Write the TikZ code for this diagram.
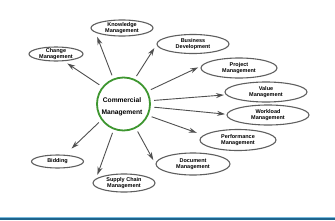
\documentclass[tikz,border=0pt]{standalone}
\usepackage{fontspec}
\setmainfont{Liberation Sans}
\usetikzlibrary{arrows.meta,shapes.geometric}
\definecolor{cmgreen}{RGB}{62,150,48}
\definecolor{cmgray}{RGB}{80,80,80}
\definecolor{cmring}{RGB}{95,95,95}
\definecolor{cmbar}{RGB}{30,100,140}
\definecolor{cmbarlt}{RGB}{120,185,220}

\begin{document}
\begin{tikzpicture}[x=1pt, y=-1pt,
    flow/.style={-{Stealth[length=8pt,width=5pt]}, line width=0.9pt, draw=cmgray, shorten <=3.5pt},
    bubble/.style 2 args={ellipse, draw=cmring, line width=1.1pt, minimum width=#1pt, minimum height=#2pt, inner sep=0pt},
    tag/.style={font=\fontsize{5.5}{6}\selectfont\bfseries, align=center, inner sep=0pt}
  ]
  \useasboundingbox (0,0) rectangle (335,220);

  % centre ring
  \node[circle, draw=cmgreen, line width=1.8pt, minimum size=53pt, inner sep=0pt] (cm) at (123.5,104) {};
  \node[font=\fontsize{6.7}{12.5}\selectfont\bfseries, align=center, inner sep=0pt] (cm-t) at (122,107) {Commercial\\Management};

  % bubbles
  \node[bubble={54}{14}] (chg) at (56,54) {};
  \node[tag] (chg-t) at (chg) {Change\\Management};
  \node[bubble={62}{16}] (know) at (122,28) {};
  \node[tag] (know-t) at (know) {Knowledge\\Management};
  \node[bubble={72}{19}] (biz) at (193,44) {};
  \node[tag] (biz-t) at (biz) {Business\\Development};
  \node[bubble={76}{20}] (proj) at (239,68) {};
  \node[tag] (proj-t) at (proj) {Project\\Management};
  \node[bubble={82}{20}] (val) at (266,92) {};
  \node[tag] (val-t) at (val) {Value\\Management};
  \node[bubble={82}{20}] (work) at (268,115) {};
  \node[tag] (work-t) at (work) {Workload\\Management};
  \node[bubble={76}{21}] (perf) at (238,140) {};
  \node[tag] (perf-t) at (perf) {Performance\\Management};
  \node[bubble={74}{22}] (doc) at (193,164) {};
  \node[tag] (doc-t) at (doc) {Document\\Management};
  \node[bubble={62}{18}] (supp) at (124,183) {};
  \node[tag] (supp-t) at (supp) {Supply Chain\\Management};
  \node[bubble={52}{13}] (bid) at (57.5,161.5) {};
  \node[tag] (bid-t) at (bid) {Bidding};

  % spokes
  \foreach \a/\n/\b/\g in {141/chg/318/4, 112/know/190/4.5, 66/biz/181/4, 28/proj/177/3.3,
      7/val/184/2, 354/work/179/1.5, 335/perf/172/7, 297/doc/180/4.5, 249/supp/171/4, 216/bid/42/9}
    \draw[flow, shorten >=\g pt] (cm.\a) -- (\n.\b);

  % bottom strip
  \fill[cmbarlt] (0,217.3) rectangle (335,218.3);
  \fill[cmbar] (0,218.3) rectangle (335,220);
\end{tikzpicture}
\end{document}
